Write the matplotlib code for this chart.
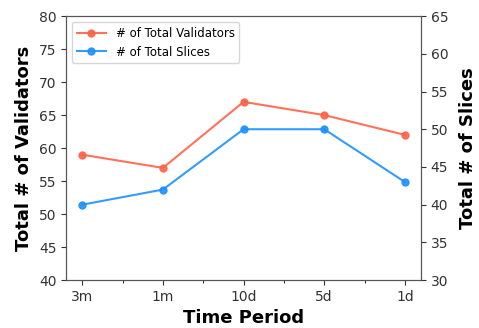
import matplotlib
matplotlib.use('Agg')
import matplotlib.pyplot as plt
import numpy as np

periods = ['3m', '1m', '10d', '5d', '1d']
validators = [59, 57, 67, 65, 62]
slices = [40, 42, 50, 50, 43]

fig = plt.figure(figsize=(4.79, 3.28), dpi=100)
ax = fig.add_axes([0.138, 0.146, 0.741, 0.805])
ax2 = ax.twinx()

x = np.arange(len(periods))
l1, = ax.plot(x, validators, color='#ff6347', marker='o', markersize=5, lw=1.5,
              alpha=0.9, label='# of Total Validators')
l2, = ax2.plot(x, slices, color='#1e90ff', marker='o', markersize=5, lw=1.5,
               alpha=0.9, label='# of Total Slices')

ax.set_xlim(-0.2, 4.2)
ax.set_ylim(40, 80)
ax2.set_ylim(30, 65)
ax.set_xticks(x)
ax.set_xticklabels(periods)
ax.set_xticks(np.arange(0.5, 4, 1), minor=True)

for a in (ax, ax2):
    a.tick_params(labelsize=10, colors='#333333')
    for s in a.spines.values():
        s.set_color('#555555')

ax.set_xlabel('Time Period', fontsize=13, fontweight='bold')
ax.set_ylabel('Total # of Validators', fontsize=13, fontweight='bold')
ax2.set_ylabel('Total # of Slices', fontsize=13, fontweight='bold', labelpad=8)

ax.legend(handles=[l1, l2], loc='upper left', fontsize=8.5, handlelength=2.5)

fig.savefig('out.png', dpi=100)
